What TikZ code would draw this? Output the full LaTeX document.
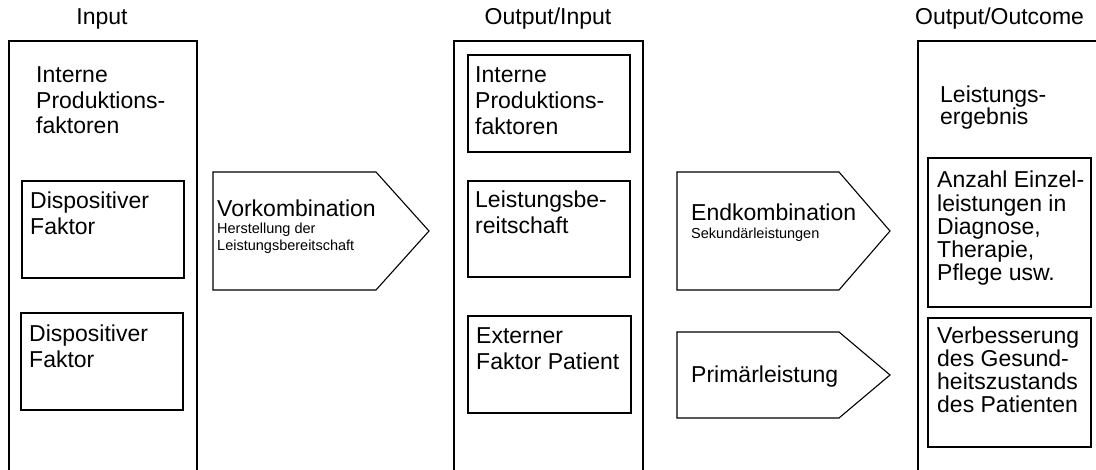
\documentclass[tikz,border=0pt]{standalone}
\usepackage{fontspec}
\setmainfont{Liberation Sans}
\usetikzlibrary{positioning}
\tikzset{box/.style={draw,line width=1.1pt},
  txt/.style={align=left,anchor=base west,inner sep=0pt,font=\fontsize{23}{26}\selectfont},
  tight/.style={font=\fontsize{23}{23.3}\selectfont},
  small/.style={align=left,anchor=base west,inner sep=0pt,font=\fontsize{14.5}{17}\selectfont},
  head/.style={anchor=base,inner sep=0pt,font=\fontsize{23}{26}\selectfont}}
\begin{document}
\begin{tikzpicture}[x=1pt,y=-1pt]
\useasboundingbox(0,0)rectangle(1096,470);
\clip(0,0)rectangle(1096,470);
\node[head](inLabel)at(102,25){Input};
\node[head](ioLabel)at(548,25){Output/Input};
\node[head,anchor=base west](ooLabel)at(915,25){Output/Outcome};
\draw[box](9,41)rectangle(197,480);
\draw[box](454,41)rectangle(643,480);
\draw[box](918,41)rectangle(1110,480);
\node[txt,font=\fontsize{23}{25.5}\selectfont](intA)at(36,134){Interne\\Produktions-\\faktoren};
\draw[box](22,181)rectangle(184,278);
\node[txt](dispA)at(30,235){Dispositiver\\Faktor};
\draw[box](21,313)rectangle(183,410);
\node[txt](dispB)at(29,368){Dispositiver\\Faktor};
\draw[box](213,172)--(376,172)--(429,231)--(376,290)--(213,290)--cycle;
\node[txt](vork)at(217,217){Vorkombination};
\node[small](vorkSub)at(217,251){Herstellung der\\Leistungsbereitschaft};
\draw[box](468,55)rectangle(630,152);
\node[txt](intB)at(475,135){Interne\\Produktions-\\faktoren};
\draw[box](468,181)rectangle(630,277);
\node[txt](bereit)at(475,234){Leistungsbe-\\reitschaft};
\draw[box](468,316)rectangle(631,413);
\node[txt](extern)at(476,370){Externer\\Faktor Patient};
\draw[box](677,172)--(839,172)--(890,231)--(839,290)--(677,290)--cycle;
\node[txt](endk)at(691,221){Endkombination};
\node[small](endkSub)at(691,239){Sekundärleistungen};
\draw[box](677,332)--(839,332)--(890,375)--(839,418)--(677,418)--cycle;
\node[txt](prim)at(691,383){Primärleistung};
\node[txt,font=\fontsize{23}{19}\selectfont](ergeb)at(940,125){Leistungs-\\ergebnis};
\draw[box](928,158)rectangle(1091,307);
\node[txt,tight](anzahl)at(937,281){Anzahl Einzel-\\leistungen in\\Diagnose,\\Therapie,\\Pflege usw.};
\draw[box](928,318)rectangle(1091,447);
\node[txt,tight](verbess)at(937,413){Verbesserung\\des Gesund-\\heitszustands\\des Patienten};
\end{tikzpicture}
\end{document}
